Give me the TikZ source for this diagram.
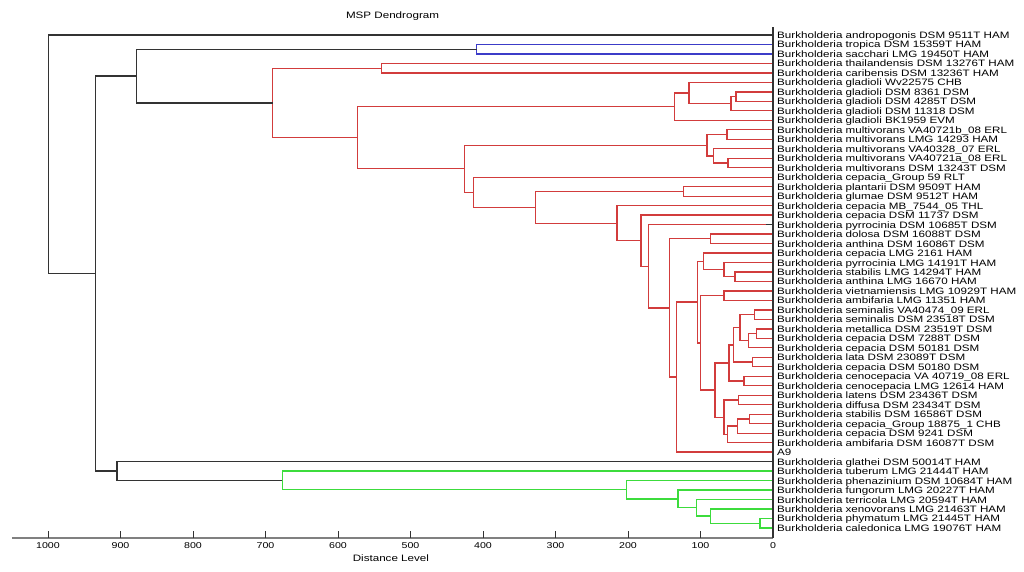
\documentclass[tikz,border=0pt]{standalone}
\usepackage{fontspec}
\usepackage{tikz}
\newfontfamily\plotfont[FakeStretch=1.25]{Liberation Sans}
\definecolor{ink}{HTML}{333333}
\definecolor{clred}{HTML}{D23C3C}
\definecolor{clblue}{HTML}{3C3CC8}
\definecolor{clgreen}{HTML}{3CDC3C}
\definecolor{axisgrey}{HTML}{808080}
\tikzset{
  blk/.style={draw=ink, line width=1.3pt},
  redl/.style={draw=clred, line width=1.3pt},
  bluel/.style={draw=clblue, line width=1.3pt},
  greenl/.style={draw=clgreen, line width=1.3pt},
  axisl/.style={draw=axisgrey, line width=2pt},
  tickl/.style={draw=ink, line width=0.9pt},
  leaf/.style={anchor=base west, inner sep=0pt, xshift=4pt, yshift=-3.5pt, font=\plotfont\fontsize{9.3}{11}\selectfont},
  ticklab/.style={anchor=base, inner sep=0pt, yshift=-10.3pt, font=\plotfont\fontsize{8.5}{10}\selectfont},
  lab/.style={anchor=base, inner sep=0pt, font=\plotfont\fontsize{9.3}{11}\selectfont},
}

\begin{document}
\begin{tikzpicture}
  \fill[white] (0,0) rectangle (1024pt,572pt);
  \useasboundingbox (0,0) rectangle (1024pt,572pt);
  \begin{scope}[shift={(773pt,537pt)}, x=-0.725pt, y=-9.48pt]
  \foreach \lab [count=\i] in {Burkholderia andropogonis DSM 9511T HAM,Burkholderia tropica DSM 15359T HAM,Burkholderia sacchari LMG 19450T HAM,Burkholderia thailandensis DSM 13276T HAM,Burkholderia caribensis DSM 13236T HAM,Burkholderia gladioli Wv22575 CHB,Burkholderia gladioli DSM 8361 DSM,Burkholderia gladioli DSM 4285T DSM,Burkholderia gladioli DSM 11318 DSM,Burkholderia gladioli BK1959 EVM,Burkholderia multivorans VA40721b\_08 ERL,Burkholderia multivorans LMG 14293 HAM,Burkholderia multivorans VA40328\_07 ERL,Burkholderia multivorans VA40721a\_08 ERL,Burkholderia multivorans DSM 13243T DSM,Burkholderia cepacia\_Group 59 RLT,Burkholderia plantarii DSM 9509T HAM,Burkholderia glumae DSM 9512T HAM,Burkholderia cepacia MB\_7544\_05 THL,Burkholderia cepacia DSM 11737 DSM,Burkholderia pyrrocinia DSM 10685T DSM,Burkholderia dolosa DSM 16088T DSM,Burkholderia anthina DSM 16086T DSM,Burkholderia cepacia LMG 2161 HAM,Burkholderia pyrrocinia LMG 14191T HAM,Burkholderia stabilis LMG 14294T HAM,Burkholderia anthina LMG 16670 HAM,Burkholderia vietnamiensis LMG 10929T HAM,Burkholderia ambifaria LMG 11351 HAM,Burkholderia seminalis VA40474\_09 ERL,Burkholderia seminalis DSM 23518T DSM,Burkholderia metallica DSM 23519T DSM,Burkholderia cepacia DSM 7288T DSM,Burkholderia cepacia DSM 50181 DSM,Burkholderia lata DSM 23089T DSM,Burkholderia cepacia DSM 50180 DSM,Burkholderia cenocepacia VA 40719\_08 ERL,Burkholderia cenocepacia LMG 12614 HAM,Burkholderia latens DSM 23436T DSM,Burkholderia diffusa DSM 23434T DSM,Burkholderia stabilis DSM 16586T DSM,Burkholderia cepacia\_Group 18875\_1 CHB,Burkholderia cepacia DSM 9241 DSM,Burkholderia ambifaria DSM 16087T DSM,A9,Burkholderia glathei DSM 50014T HAM,Burkholderia tuberum LMG 21444T HAM,Burkholderia phenazinium DSM 10684T HAM,Burkholderia fungorum LMG 20227T HAM,Burkholderia terricola LMG 20594T HAM,Burkholderia xenovorans LMG 21463T HAM,Burkholderia phymatum LMG 21445T HAM,Burkholderia caledonica LMG 19076T HAM}{
    \coordinate (l\i) at (0,\i-1);
    \node[leaf] (t\i) at (l\i) {\lab};
  }
  \foreach \n/\d/\r/\a/\b in {ga/51/6.5/l7/l8,gb/58/7.25/ga/l9,gc/116/6.125/l6/gb,gd/135.6/7.5625/gc/l10,
    ma/63.4/10.5/l11/l12,mb/62/13.5/l14/l15,mc/82.3/12.75/l13/mb,md/91/11.625/ma/mc,ta/539.7/3.5/l4/l5,
    ca/25.7/29.5/l30/l31,cb/22.4/31.5/l32/l33,cc/33.5/32.25/cb/l34,cd/45.5/30.875/ca/cc,ce/28.6/34.5/l35/l36,
    cf/54.7/32.6875/cd/ce,cg/40/36.5/l37/l38,ch/60.7/34.59375/cf/cg,ci/47.8/38.5/l39/l40,cj/32.6/40.5/l41/l42,
    ck/48.7/41.25/cj/l43,cl/62.5/42.125/ck/l44,cm/67.6/40.3125/ci/cl,cn/80/37.453125/ch/cm,co/67.6/27.5/l28/l29,
    cp/100/32.4766/co/cn,cq/52.4/25.5/l26/l27,cr/67.6/24.75/l25/cq,cs/96/23.875/l24/cr,ct/104/28.1758/cs/cp,
    cu/133.3/36.0879/ct/l45,cv/86/21.5/l22/l23,cw/142.5/28.794/cv/cu,cx/172/24.397/l21/cw,cy/182/21.698/l20/cx,
    cz/215/19.849/l19/cy,pa/123.2/16.5/l17/l18,pb/327.3/18.175/pa/cz,pc/413.3/16.587/l16/pb,
    pd/425.8/14.106/md/pc,pe/573.4/10.834/gd/pd,pf/690/7.167/ta/pe}{
    \coordinate (\n) at (\d,\r);
    \draw[redl] (\a) -| (\n) |- (\b);
  }
  \coordinate (ba) at (408.7,1.5);
  \draw[bluel] (l2) -| (ba) |- (l3);
  \foreach \n/\d/\r/\a/\b in {ea/17.8/51.5/l52/l53,eb/86.2/50.75/l51/ea,ec/106/49.875/l50/eb,
    ed/131/48.9375/l49/ec,ee/202/47.96875/l48/ed,ef/677/46.984/l47/ee}{
    \coordinate (\n) at (\d,\r);
    \draw[greenl] (\a) -| (\n) |- (\b);
  }
  \foreach \n/\d/\r/\a/\b in {ka/877.7/4.333/ba/pf,kb/905/45.992/l46/ef,kc/934/25.163/ka/kb,rt/999.6/12.58/l1/kc}{
    \coordinate (\n) at (\d,\r);
    \draw[blk] (\a) -| (\n) |- (\b);
  }
  \draw[blk] (l21) -- ++(10,0);
  \coordinate (axl) at (1049.7,53.03);
  \coordinate (axr) at (0,53.03);
  \coordinate (vtop) at (0,-0.84);
  \draw[axisl] (axl) -- (axr);
  \foreach \d in {0,100,...,1000}{
    \draw[tickl] (\d,53.03) -- (\d,52.29);
    \node[ticklab] (k\d) at (\d,53.03) {\d};
  }
  \draw[blk] (vtop) -- (axr);
  \node[lab, yshift=-23.3pt] (xlab) at (527,53.03) {Distance Level};
  \node[lab] (title) at (524.8,-1.73) {MSP Dendrogram};
  \end{scope}
\end{tikzpicture}
\end{document}
